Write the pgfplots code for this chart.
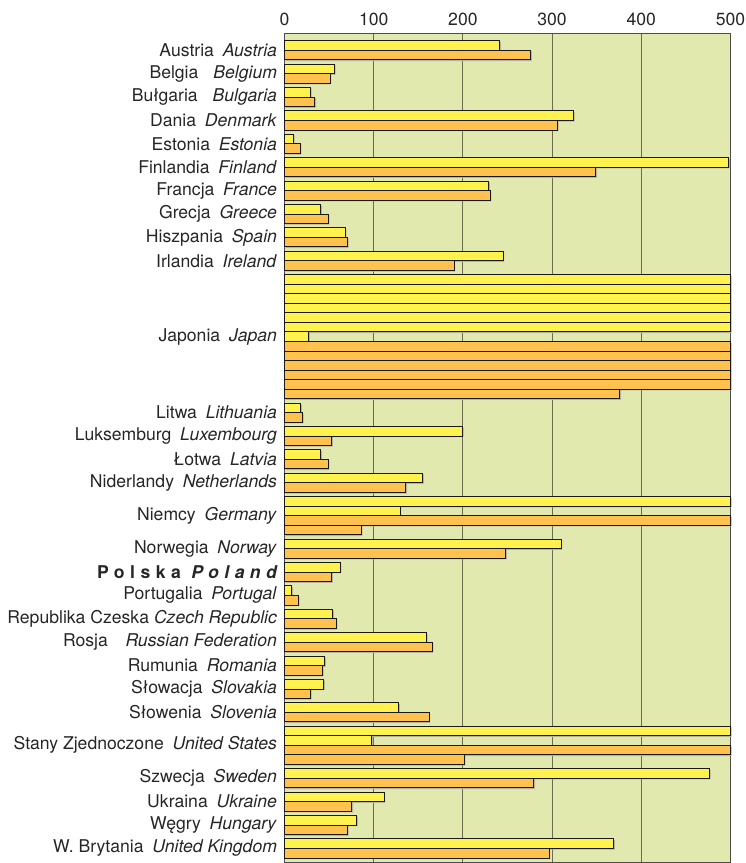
\documentclass[border=0pt]{standalone}
\usepackage{pgfplots}
\usepackage{pgfplotstable}
\pgfplotsset{compat=1.18}
\usepackage{fontspec}
\setmainfont{TeX Gyre Heros}
\definecolor{bg}{HTML}{E2E9AF}
\definecolor{ylw}{HTML}{FFF24F}
\definecolor{org}{HTML}{FFC24E}
\definecolor{gridc}{HTML}{6B6B4E}
\newcommand\lb[3][0.5em]{#2\hspace{#1}\textit{#3}}

% value, row centre (rows of countries that overflow 500 wrap onto further rows)
\pgfplotstableread{
v y
241.5 45.48
56 68.87
29 92.26
324 115.65
10 139.04
498 162.43
229 185.82
40.5 209.21
68 232.60
245 255.99
500 279.38
500 288.93
500 298.48
500 308.03
500 317.58
500 327.13
27 336.68
18 407.82
199.5 431.21
40.5 454.60
155 477.99
500 501.38
129.5 510.93
310 543.87
62.5 567.26
8.2 590.65
54 614.04
159 637.43
45 660.82
44 684.21
128 707.60
500 730.99
98 740.54
476.5 773.48
111.5 796.87
81 820.26
369 843.65
}\yellowdata

\pgfplotstableread{
v y
276 55.03
51 78.42
34 101.81
306 125.20
17.5 148.59
349 171.98
230.5 195.37
49 218.76
70.5 242.15
190 265.54
500 346.23
500 355.78
500 365.33
500 374.88
500 384.43
376 393.98
20 417.37
53 440.76
49 464.15
136 487.54
500 520.48
86 530.03
248 553.42
53 576.81
15.3 600.20
58 623.59
165.5 646.98
42.5 670.37
29 693.76
162 717.15
500 750.09
201.5 759.64
279.5 783.03
75.5 806.42
70.5 829.81
296.5 853.20
}\orangedata

\begin{document}
\begin{tikzpicture}
\begin{axis}[
  scale only axis, width=446pt, height=829pt,
  xmin=0, xmax=500, ymin=33, ymax=862, y dir=reverse,
  xtick={0,100,200,300,400,500},
  xticklabel pos=upper,
  xmajorgrids, major grid style={draw=gridc, line width=1pt},
  major tick length=0pt,
  ytick={50.25,73.64,97.03,120.42,143.81,167.20,190.59,213.98,237.37,260.76,336.68,412.59,435.98,459.37,482.76,515.70,548.64,572.03,595.42,618.81,642.20,665.59,688.98,712.37,745.31,778.25,801.64,825.03,848.42},
  yticklabels={
    \lb{Austria}{Austria},
    \lb[0.85em]{Belgia}{Belgium},
    \lb[0.85em]{Bułgaria}{Bulgaria},
    \lb{Dania}{Denmark},
    \lb{Estonia}{Estonia},
    \lb{Finlandia}{Finland},
    \lb{Francja}{France},
    \lb{Grecja}{Greece},
    \lb{Hiszpania}{Spain},
    \lb{Irlandia}{Ireland},
    \lb{Japonia}{Japan},
    \lb{Litwa}{Lithuania},
    \lb{Luksemburg}{Luxembourg},
    \lb{Łotwa}{Latvia},
    \lb{Niderlandy}{Netherlands},
    \lb{Niemcy}{Germany},
    \lb{Norwegia}{Norway},
    {\bfseries\addfontfeatures{LetterSpace=31}Polska\hspace{0.6em}\itshape Poland},
    \lb{Portugalia}{Portugal},
    \lb[0.28em]{Republika Czeska}{Czech Republic},
    \lb[1.0em]{Rosja}{Russian Federation},
    \lb{Rumunia}{Romania},
    \lb{Słowacja}{Slovakia},
    \lb{Słowenia}{Slovenia},
    \lb{Stany Zjednoczone}{United States},
    \lb{Szwecja}{Sweden},
    \lb{Ukraina}{Ukraine},
    \lb{Węgry}{Hungary},
    \lb{W. Brytania}{United Kingdom}
  },
  yticklabel style={font=\fontsize{17.6}{20}\selectfont, text=black!85, xshift=-4pt},
  xticklabel style={font=\fontsize{17.6}{20}\selectfont, text=black!85, yshift=4pt},
  /pgf/number format/assume math mode=true,
  axis background/.style={fill=bg},
  axis line style={draw=black!70, line width=1pt},
  clip=false,
]
\coordinate (pNW) at (axis cs:0,33);
\addplot[xbar, bar width=9.55, bar shift=0, fill=black!30, draw=none, xshift=1.2pt, yshift=-1.2pt, forget plot] table[x=v,y=y] {\yellowdata};
\addplot[xbar, bar width=9.55, bar shift=0, fill=black!30, draw=none, xshift=1.2pt, yshift=-1.2pt, forget plot] table[x=v,y=y] {\orangedata};
\addplot[xbar, bar width=9.55, bar shift=0, fill=ylw, draw=black!90, line width=0.9pt] table[x=v,y=y] {\yellowdata};
\addplot[xbar, bar width=9.55, bar shift=0, fill=org, draw=black!90, line width=0.9pt] table[x=v,y=y] {\orangedata};
\end{axis}
\pgfresetboundingbox
\path ([shift={(-284.5pt,33pt)}]pNW) rectangle ++(746pt,-863pt);
\end{tikzpicture}
\end{document}
